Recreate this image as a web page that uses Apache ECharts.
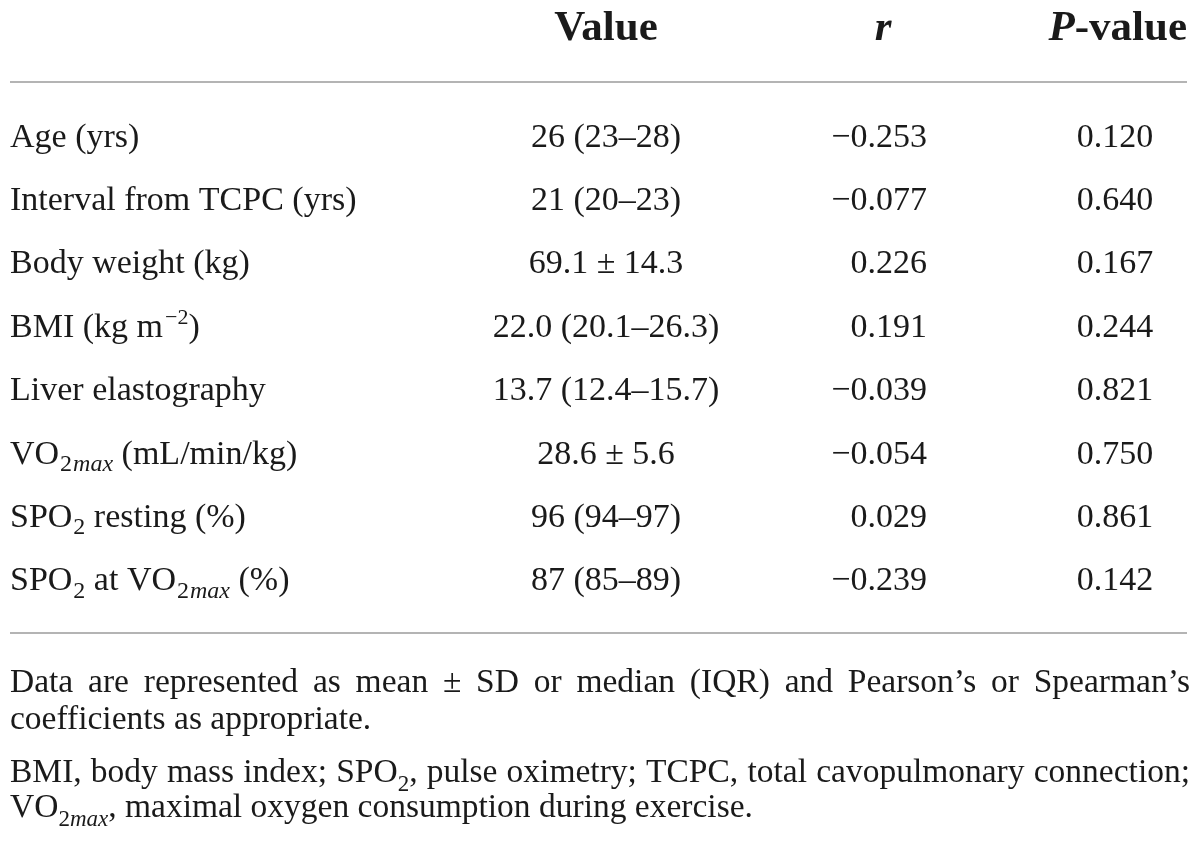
<!DOCTYPE html>
<html>
<head>
<meta charset="utf-8">
<script src="https://cdn.jsdelivr.net/npm/echarts@6/dist/echarts.min.js"></script>
<style>
html,body{margin:0;padding:0;background:#ffffff;}
#main{width:1200px;height:841px;}
</style>
</head>
<body>
<div id="main"></div>
<script>
// ---------------- data ----------------
const headerValue = 'Value';
const headerR = 'r';
const headerP = ['P', '-value'];
const rowLabels = [
  'Age (yrs)',
  'Interval from TCPC (yrs)',
  'Body weight (kg)',
  'BMI (kg m{sup|−2})',
  'Liver elastography',
  'VO{s|2}{si|max} (mL/min/kg)',
  'SPO{s|2} resting (%)',
  'SPO{s|2} at VO{s|2}{si|max} (%)'
];
const valueTexts = [
  '26 (23–28)',
  '21 (20–23)',
  '69.1 ± 14.3',
  '22.0 (20.1–26.3)',
  '13.7 (12.4–15.7)',
  '28.6 ± 5.6',
  '96 (94–97)',
  '87 (85–89)'
];
const rValues = [-0.253, -0.077, 0.226, 0.191, -0.039, -0.054, 0.029, -0.239];
const pValues = [0.120, 0.640, 0.167, 0.244, 0.821, 0.750, 0.861, 0.142];
const footnoteLines = [
  {text: 'Data are represented as mean ± SD or median (IQR) and Pearson’s or Spearman’s', justify: true},
  {text: 'coefficients as appropriate.', justify: false},
  {text: 'BMI, body mass index; SPO{s|2}, pulse oximetry; TCPC, total cavopulmonary connection;', justify: true},
  {text: 'VO{s|2}{si|max}, maximal oxygen consumption during exercise.', justify: false}
];

// ---------------- styles ----------------
const FF = '"Liberation Serif", "DejaVu Serif", serif';
const INK = '#1a1a1a';
const BODY = 34;
const HEAD = 43;
const FOOT = 33.5;

const richBody = {
  t:   {fontFamily: FF, fontSize: BODY, lineHeight: BODY, color: INK, opacity: 1, verticalAlign: 'middle'},
  s:   {fontFamily: FF, fontSize: 24, lineHeight: 24, color: INK, opacity: 1, verticalAlign: 'middle', padding: [20, 0, 0, 1]},
  si:  {fontFamily: FF, fontSize: 24, lineHeight: 24, color: INK, opacity: 1, fontStyle: 'italic', verticalAlign: 'middle', padding: [20, 0, 0, 1]},
  sup: {fontFamily: FF, fontSize: 22, lineHeight: 22, color: INK, opacity: 1, verticalAlign: 'middle', padding: [0, 0, 20, 2]}
};

function parseMarkup(str) {
  const re = /\{(\w+)\|([^}]*)\}|([^{]+)/g;
  const out = [];
  let m;
  while ((m = re.exec(str)) !== null) {
    if (m[1]) out.push({k: m[1], t: m[2]});
    else out.push({k: 't', t: m[3]});
  }
  return out;
}
function toRich(str) {
  return parseMarkup(str).map(p => '{' + p.k + '|' + p.t + '}').join('');
}
function fmtSigned(v) {
  return (v < 0 ? '−' : '') + Math.abs(v).toFixed(3);
}

// ---------------- columns ----------------
const rowKeys = rowLabels.map((_, i) => 'row' + i);
const columns = [
  {center: 10,   align: 'left',   texts: rowLabels.map(toRich)},
  {center: 606,  align: 'center', texts: valueTexts.map(toRich)},
  {center: 927,  align: 'right',  texts: rValues.map(v => toRich(fmtSigned(v)))},
  {center: 1115, align: 'center', texts: pValues.map(v => toRich(v.toFixed(3)))}
];
const GRID_TOP = 106;
const ROW_H = 63.4;

const grids = [], xAxes = [], yAxes = [], series = [];
columns.forEach((col, ci) => {
  grids.push({left: col.center - 10, width: 20, top: GRID_TOP, height: ROW_H * rowLabels.length, containLabel: false});
  xAxes.push({type: 'category', gridIndex: ci, data: ['c' + ci], show: false});
  yAxes.push({type: 'category', gridIndex: ci, data: rowKeys, inverse: true, show: false});
  series.push({
    type: 'scatter',
    xAxisIndex: ci, yAxisIndex: ci,
    symbolSize: 1,
    itemStyle: {color: 'rgba(255,255,255,0)', opacity: 1},
    silent: true,
    data: col.texts.map((_, i) => ['c' + ci, rowKeys[i]]),
    label: {
      show: true,
      position: 'inside',
      align: col.align,
      verticalAlign: 'middle',
      opacity: 1,
      fontFamily: FF, fontSize: BODY, color: INK,
      textBorderWidth: 0,
      formatter: p => col.texts[p.dataIndex],
      rich: richBody
    },
    emphasis: {disabled: true}
  });
});

// ---------------- graphic: header, rules, footnotes ----------------
const graphics = [];
const headY = 29;
graphics.push({type: 'text', x: 606, y: headY, silent: true,
  style: {text: headerValue, fontFamily: FF, fontSize: HEAD, fontWeight: 'bold', fill: INK, align: 'center', verticalAlign: 'middle'}});
graphics.push({type: 'text', x: 883, y: headY, silent: true,
  style: {text: headerR, fontFamily: FF, fontSize: HEAD, fontWeight: 'bold', fontStyle: 'italic', fill: INK, align: 'center', verticalAlign: 'middle'}});
graphics.push({type: 'text', x: 1187, y: headY, silent: true,
  style: {text: '{pi|' + headerP[0] + '}{pb|' + headerP[1] + '}', fill: INK, align: 'right', verticalAlign: 'middle',
    rich: {
      pi: {fontFamily: FF, fontSize: HEAD, fontWeight: 'bold', fontStyle: 'italic', fill: INK},
      pb: {fontFamily: FF, fontSize: HEAD, fontWeight: 'bold', fill: INK}
    }}});

const ruleStyle = {stroke: '#b4b4b4', lineWidth: 2};
graphics.push({type: 'line', silent: true, shape: {x1: 10, y1: 82, x2: 1187, y2: 82}, style: ruleStyle});
graphics.push({type: 'line', silent: true, shape: {x1: 10, y1: 633, x2: 1187, y2: 633}, style: ruleStyle});

// footnotes with manual justification
const ctx = document.createElement('canvas').getContext('2d');
const footFonts = {
  t:  {size: FOOT, style: 'normal', dy: 0},
  s:  {size: 23, style: 'normal', dy: 9},
  si: {size: 23, style: 'italic', dy: 9}
};
function fontString(f) { return f.style + ' normal ' + f.size + 'px ' + FF; }
function measure(seg) {
  ctx.font = fontString(footFonts[seg.k]);
  return ctx.measureText(seg.t).width;
}
const footBaselines = [693, 730, 783, 818];
const LEFT = 10, RIGHT = 1190;
footnoteLines.forEach((line, li) => {
  const words = line.text.split(' ').map(w => parseMarkup(w));
  const widths = words.map(segs => segs.reduce((a, s) => a + measure(s), 0));
  ctx.font = fontString(footFonts.t);
  const spaceW = ctx.measureText(' ').width;
  const total = widths.reduce((a, b) => a + b, 0);
  const gap = line.justify ? (RIGHT - LEFT - total) / (words.length - 1) : spaceW;
  let x = LEFT;
  const base = footBaselines[li];
  words.forEach((segs, wi) => {
    let sx = x;
    segs.forEach(seg => {
      const f = footFonts[seg.k];
      const cy = base + f.dy - 0.305 * f.size;
      graphics.push({type: 'text', x: sx, y: cy, silent: true,
        style: {text: seg.t, fontFamily: FF, fontSize: f.size, fontStyle: f.style, fill: INK, align: 'left', verticalAlign: 'middle'}});
      sx += measure(seg);
    });
    x += widths[wi] + gap;
  });
});

const chart = echarts.init(document.getElementById('main'), null, {renderer: 'canvas'});
chart.setOption({
  animation: false,
  backgroundColor: '#ffffff',
  grid: grids,
  xAxis: xAxes,
  yAxis: yAxes,
  series: series,
  graphic: graphics
});
</script>
</body>
</html>
